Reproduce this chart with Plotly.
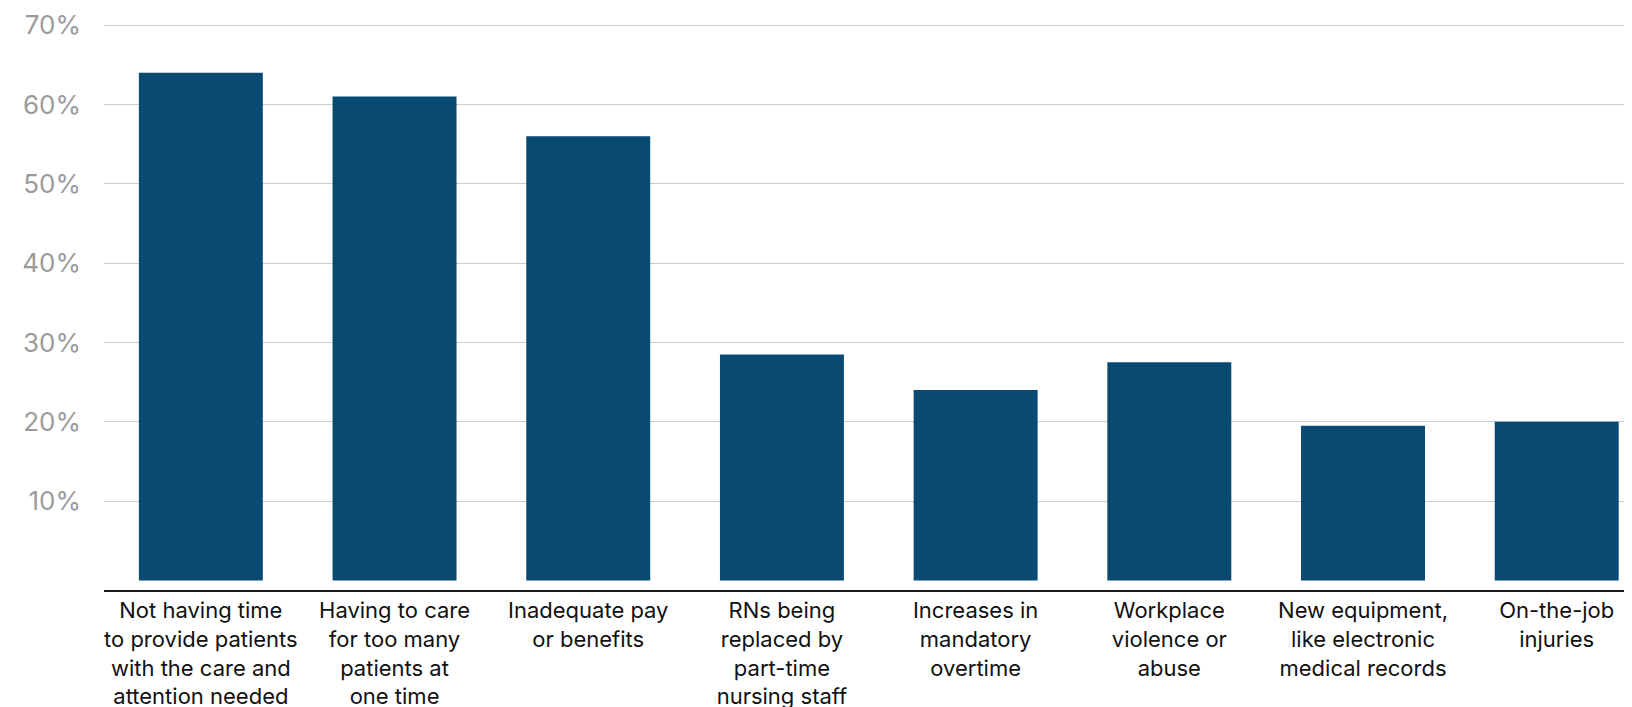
import plotly.graph_objects as go

categories = [
    "Not having time<br>to provide patients<br>with the care and<br>attention needed",
    "Having to care<br>for too many<br>patients at<br>one time",
    "Inadequate pay<br>or benefits",
    "RNs being<br>replaced by<br>part-time<br>nursing staff",
    "Increases in<br>mandatory<br>overtime",
    "Workplace<br>violence or<br>abuse",
    "New equipment,<br>like electronic<br>medical records",
    "On-the-job<br>injuries",
]
values = [64, 61, 56, 28.5, 24, 27.5, 19.5, 20]
y_ticks = [10, 20, 30, 40, 50, 60, 70]
y_tick_labels = [f"{v}%" for v in y_ticks]

fig = go.Figure(
    go.Bar(
        x=list(range(len(categories))),
        y=values,
        marker=dict(color="#094a73", line=dict(width=0)),
        hoverinfo="skip",
    )
)

fig.update_layout(
    width=1632,
    height=707,
    margin=dict(l=96, r=0, t=16, b=125),
    plot_bgcolor="white",
    paper_bgcolor="white",
    bargap=0.36,
    showlegend=False,
    font=dict(family="Inter", color="#111111"),
)

fig.update_xaxes(
    range=[-0.5, 7.43],
    tickmode="array",
    tickvals=list(range(len(categories))),
    ticktext=categories,
    tickangle=0,
    tickfont=dict(family="Inter", size=22, color="#111111"),
    showgrid=False,
    showline=True,
    linecolor="#1a1a1a",
    linewidth=2,
    ticks="",
    zeroline=False,
)

fig.update_yaxes(
    range=[-1.2, 70.15],
    tickmode="array",
    tickvals=y_ticks,
    ticktext=y_tick_labels,
    tickfont=dict(family="Inter", size=26, color="#9b9b9b"),
    showgrid=True,
    gridcolor="#cccccc",
    gridwidth=1,
    zeroline=False,
    showline=False,
    ticks="",
    ticklabelstandoff=22,
)

fig.write_html("out.html")
